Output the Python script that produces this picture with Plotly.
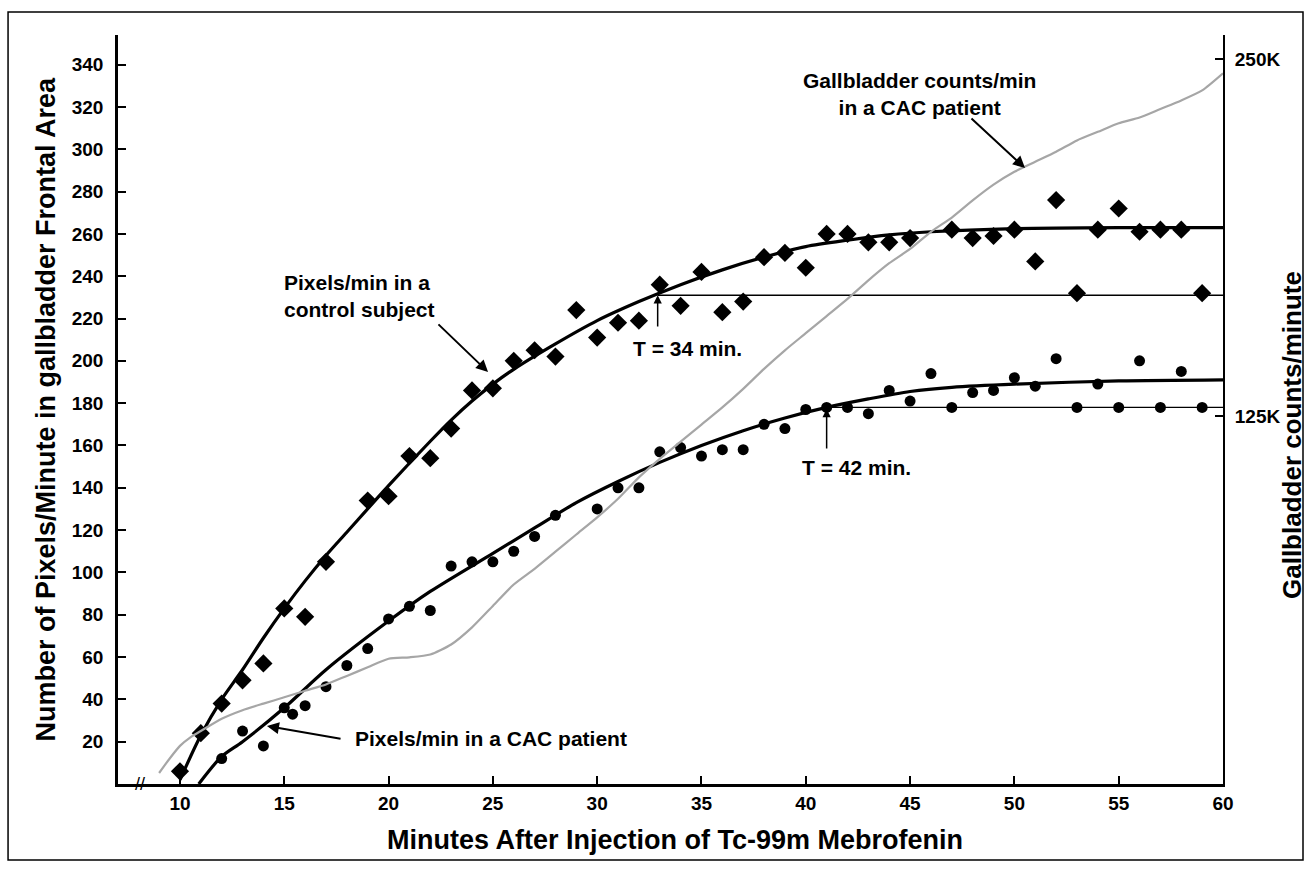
import plotly.graph_objects as go

# ---------------- data ----------------
ctrl_x = [10, 11, 12, 13, 14, 15, 16, 17, 19, 20, 21, 22, 23, 24, 25, 26, 27, 28, 29, 30,
          31, 32, 33, 34, 35, 36, 37, 38, 39, 40, 41, 42, 43, 44, 45, 47, 48, 49, 50, 51,
          52, 53, 54, 55, 56, 57, 58, 59]
ctrl_y = [6, 24, 38, 49, 57, 83, 79, 105, 134, 136, 155, 154, 168, 186, 187, 200, 205, 202, 224, 211,
          218, 219, 236, 226, 242, 223, 228, 249, 251, 244, 260, 260, 256, 256, 258, 262, 258, 259, 262, 247,
          276, 232, 262, 272, 261, 262, 262, 232]

cac_x = [12, 13, 14, 15, 15.4, 16, 17, 18, 19, 20, 21, 22, 23, 24, 25, 26, 27, 28, 30, 31,
         32, 33, 34, 35, 36, 37, 38, 39, 40, 41, 42, 43, 44, 45, 46, 47, 48, 49, 50, 51,
         52, 53, 54, 55, 56, 57, 58, 59]
cac_y = [12, 25, 18, 36, 33, 37, 46, 56, 64, 78, 84, 82, 103, 105, 105, 110, 117, 127, 130, 140,
         140, 157, 159, 155, 158, 158, 170, 168, 177, 178, 178, 175, 186, 181, 194, 178, 185, 186, 192, 188,
         201, 178, 189, 178, 200, 178, 195, 178]

ctrl_fit_x = [10, 11, 12, 13, 14, 15, 16, 17, 18, 20, 22, 23, 24, 25, 26, 28, 30, 32, 34, 36,
              38, 40, 42, 44, 46, 50, 55, 60]
ctrl_fit_y = [2, 23, 40, 54, 69, 83, 96, 108, 119, 141, 162, 172, 181, 189, 196, 208, 219, 228, 236, 243,
              249, 254, 257, 259.5, 261, 262.5, 263, 263]

cac_fit_x = [10.9, 12, 13, 15, 17, 20, 22, 25, 27, 29, 31, 33, 35, 37, 39, 41, 43, 45, 47, 50, 55, 60]
cac_fit_y = [0, 13, 20, 36, 54, 77, 91, 109, 121, 133, 143, 152, 160, 167, 173, 178, 182, 185.5, 187.5, 189, 190.5, 191]

ctrl_plateau_x = [32.9, 60]
ctrl_plateau_y = [231, 231]
cac_plateau_x = [41.0, 60]
cac_plateau_y = [178, 178]

gb_x = [9.0, 9.5, 10, 10.5, 11, 12, 13, 14, 15, 16, 17, 18, 19, 20, 21, 22, 23, 24, 25, 26,
        27, 28, 29, 30, 31, 32, 33, 34, 35, 36, 37, 38, 39, 40, 41, 42, 43, 44, 45, 46,
        47, 48, 49, 50, 51, 52, 53, 54, 55, 56, 57, 58, 59, 60]
gb_counts = [0, 5000, 9500, 12500, 14700, 19000, 22000, 24300, 26500, 28800, 31000, 34000, 37000, 40000, 40500, 41500, 45000, 51000, 58500, 66000,
             71500, 77500, 83500, 89500, 96000, 103500, 110000, 116000, 122000, 128000, 134500, 141500, 148000, 154000, 160000, 166000, 172500, 178500, 183500, 189500,
             194500, 200500, 206000, 210500, 214000, 217500, 221500, 224500, 227500, 229500, 232500, 235500, 239000, 245000]

x_ticks = [10, 15, 20, 25, 30, 35, 40, 45, 50, 55, 60]
y_ticks = [20, 40, 60, 80, 100, 120, 140, 160, 180, 200, 220, 240, 260, 280, 300, 320, 340]
y2_ticks = [125000, 250000]
y2_ticktext = ["125K", "250K"]

# ---------------- figure ----------------
FONT = "Liberation Sans, Arial, sans-serif"

fig = go.Figure()

fig.add_trace(go.Scatter(x=gb_x, y=gb_counts, yaxis="y2", mode="lines",
                         line=dict(color="#a6a6a6", width=2.2, shape="spline", smoothing=0.6),
                         showlegend=False, hoverinfo="skip"))

fig.add_trace(go.Scatter(x=ctrl_plateau_x, y=ctrl_plateau_y, mode="lines",
                         line=dict(color="black", width=1.3), showlegend=False))
fig.add_trace(go.Scatter(x=cac_plateau_x, y=cac_plateau_y, mode="lines",
                         line=dict(color="black", width=1.3), showlegend=False))

fig.add_trace(go.Scatter(x=ctrl_fit_x, y=ctrl_fit_y, mode="lines",
                         line=dict(color="black", width=3.2, shape="spline", smoothing=0.8),
                         showlegend=False))
fig.add_trace(go.Scatter(x=cac_fit_x, y=cac_fit_y, mode="lines",
                         line=dict(color="black", width=3.2, shape="spline", smoothing=0.8),
                         showlegend=False))

fig.add_trace(go.Scatter(x=ctrl_x, y=ctrl_y, mode="markers",
                         marker=dict(symbol="diamond", size=14, color="black"),
                         showlegend=False))
fig.add_trace(go.Scatter(x=cac_x, y=cac_y, mode="markers",
                         marker=dict(symbol="circle", size=11, color="black"),
                         showlegend=False))

ann_font = dict(family=FONT, size=21, color="black", weight="bold")
title_font = dict(family=FONT, size=27, color="black", weight="bold")
tick_font = dict(family=FONT, size=19, color="black", weight="bold")


def label(x, y, text, xanchor="left", align="left"):
    return dict(x=x, y=y, xref="x", yref="y", text=text, showarrow=False,
                xanchor=xanchor, yanchor="middle", align=align, font=ann_font)


def arrow(x, y, ax, ay, width=2, size=1.2):
    return dict(x=x, y=y, ax=ax, ay=ay, xref="x", yref="y", axref="x", ayref="y",
                text="", showarrow=True, arrowhead=2, arrowsize=size,
                arrowwidth=width, arrowcolor="black")


annotations = [
    label(14.89, 230.5, "Pixels/min in a<br>control subject"),
    label(18.29, 21.3, "Pixels/min in a CAC patient"),
    label(45.43, 326.0, "Gallbladder counts/min<br>in a CAC patient", "center", "center"),
    label(34.35, 206, "T = 34 min.", "center", "center"),
    label(42.45, 149.8, "T = 42 min.", "center", "center"),
    arrow(24.77, 194.7, 22.32, 217.9),
    arrow(14.17, 27.4, 17.77, 21.3),
    arrow(50.51, 291.1, 47.87, 315.2),
    arrow(32.9, 231, 32.9, 215.5, 1.5, 1.1),
    arrow(41.0, 177.2, 41.0, 157.8, 1.5, 1.1),
    # axis break
    dict(x=8.08, y=0, xref="x", yref="y", text="//", showarrow=False,
         xanchor="center", yanchor="middle", font=dict(family=FONT, size=18, color="black")),
    # axis titles
    dict(x=-0.066, y=0.5, xref="paper", yref="paper", textangle=-90,
         text="Number of Pixels/Minute in gallbladder Frontal Area", showarrow=False,
         xanchor="center", yanchor="middle", font=title_font),
    dict(x=1.0625, y=0.466, xref="paper", yref="paper", textangle=-90,
         text="Gallbladder counts/minute", showarrow=False,
         xanchor="center", yanchor="middle",
         font=dict(family=FONT, size=26, color="black", weight="bold")),
    dict(x=0.504, y=-0.0748, xref="paper", yref="paper",
         text="Minutes After Injection of Tc-99m Mebrofenin", showarrow=False,
         xanchor="center", yanchor="middle", font=title_font),
]

fig.update_layout(
    width=1310, height=869,
    margin=dict(l=118, r=87, t=35, b=85),
    paper_bgcolor="white", plot_bgcolor="white",
    showlegend=False,
    annotations=annotations,
    shapes=[dict(type="rect", xref="paper", yref="paper", x0=-0.0995, x1=1.0724, y0=-0.1015, y1=1.0307,
                 line=dict(color="black", width=1.5), fillcolor="rgba(0,0,0,0)", layer="below")],
    xaxis=dict(range=[7.03, 60], tickvals=x_ticks, ticks="inside", ticklen=8, tickwidth=2,
               tickcolor="black", showline=True, linecolor="black", linewidth=2.5,
               showgrid=False, zeroline=False, tickfont=tick_font),
    yaxis=dict(range=[0, 354], tickvals=y_ticks, ticks="inside", ticklen=8, tickwidth=1.5,
               tickcolor="black", showline=True, linecolor="black", linewidth=2.5,
               showgrid=False, zeroline=False, ticklabelstandoff=8, tickfont=tick_font),
    yaxis2=dict(range=[-3851, 258403], overlaying="y", side="right", tickvals=y2_ticks,
                ticktext=y2_ticktext, ticks="inside", ticklen=8, tickwidth=1.5, tickcolor="black",
                showline=True, linecolor="black", linewidth=2, showgrid=False, zeroline=False,
                ticklabelstandoff=6, tickfont=tick_font),
)

fig.write_html("out.html", config={"displayModeBar": False},
               post_script="document.body.style.margin='0';document.body.style.overflow='hidden';")
